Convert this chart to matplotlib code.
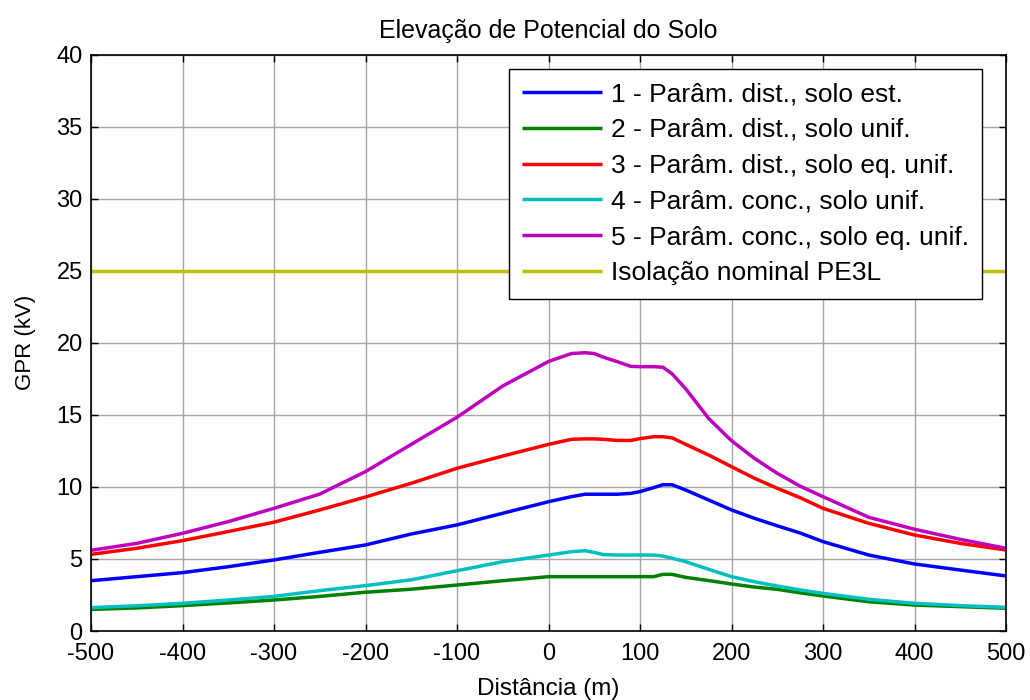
import matplotlib
matplotlib.use("Agg")
import matplotlib.pyplot as plt

plt.rcParams['font.family'] = ['Liberation Sans', 'DejaVu Sans']
plt.rcParams['axes.unicode_minus'] = False

# Distance along the line (m)
distancia = [-500, -450, -400, -350, -300, -250, -200, -150, -100, -50, 0,
             25, 40, 50, 60, 75, 90, 100, 115, 125, 135, 150, 175, 200,
             225, 250, 275, 300, 350, 400, 450, 500]

# Ground potential rise (kV) for each case
gpr_1 = [3.49, 3.77, 4.05, 4.46, 4.93, 5.46, 5.97, 6.73, 7.36, 8.17, 8.97,
         9.32, 9.49, 9.49, 9.49, 9.49, 9.55, 9.67, 9.95, 10.15, 10.15, 9.78,
         9.09, 8.40, 7.82, 7.30, 6.80, 6.20, 5.27, 4.65, 4.23, 3.82]
gpr_2 = [1.50, 1.60, 1.76, 1.95, 2.15, 2.40, 2.69, 2.90, 3.19, 3.49, 3.77,
         3.77, 3.77, 3.77, 3.77, 3.77, 3.77, 3.77, 3.77, 3.93, 3.93, 3.72,
         3.50, 3.26, 3.05, 2.89, 2.65, 2.43, 2.03, 1.80, 1.69, 1.58]
gpr_3 = [5.32, 5.74, 6.27, 6.90, 7.55, 8.40, 9.30, 10.25, 11.29, 12.14, 12.95,
         13.30, 13.33, 13.33, 13.30, 13.22, 13.22, 13.35, 13.48, 13.48, 13.40,
         12.95, 12.21, 11.40, 10.60, 9.90, 9.25, 8.51, 7.47, 6.66, 6.08, 5.62]
gpr_4 = [1.62, 1.75, 1.92, 2.15, 2.40, 2.80, 3.15, 3.55, 4.18, 4.81, 5.27,
         5.50, 5.57, 5.45, 5.30, 5.27, 5.27, 5.27, 5.27, 5.20, 5.05, 4.81,
         4.28, 3.77, 3.42, 3.12, 2.85, 2.61, 2.20, 1.92, 1.76, 1.64]
gpr_5 = [5.60, 6.08, 6.78, 7.59, 8.51, 9.50, 11.06, 12.95, 14.83, 17.00, 18.70,
         19.25, 19.31, 19.25, 19.00, 18.69, 18.36, 18.34, 18.34, 18.30, 17.85,
         16.80, 14.75, 13.20, 11.98, 10.94, 10.05, 9.32, 7.89, 7.06, 6.36, 5.74]
isolacao_kv = 25.0

rotulos = ['1 - Parâm. dist., solo est.',
           '2 - Parâm. dist., solo unif.',
           '3 - Parâm. dist., solo eq. unif.',
           '4 - Parâm. conc., solo unif.',
           '5 - Parâm. conc., solo eq. unif.',
           'Isolação nominal PE3L']
cores = ['#0000ff', '#008000', '#ff0000', '#00bfbf', '#bf00bf', '#bfbf00']

x_ticks = list(range(-500, 501, 100))
y_ticks = list(range(0, 41, 5))

fig = plt.figure(figsize=(10.3, 7.0), dpi=100)
ax = fig.add_axes([91 / 1030, 69 / 700, 915 / 1030, 576.5 / 700])

lw = 2.5
for serie, cor, rot in zip([gpr_1, gpr_2, gpr_3, gpr_4, gpr_5], cores[:5], rotulos[:5]):
    ax.plot(distancia, serie, color=cor, lw=lw, label=rot, solid_capstyle='butt')
ax.plot([distancia[0], distancia[-1]], [isolacao_kv, isolacao_kv],
        color=cores[5], lw=lw, label=rotulos[5], solid_capstyle='butt')

ax.set_xlim(-500, 500)
ax.set_ylim(0, 40)
ax.set_xticks(x_ticks)
ax.set_yticks(y_ticks)
ax.grid(True, color='#a6a6a6', lw=1.0)
ax.set_axisbelow(True)

ax.tick_params(direction='in', length=5, width=1, top=True, right=True,
               labelsize=17, colors='black')
ax.tick_params(axis='x', pad=9)
ax.tick_params(axis='y', pad=6)
for s in ax.spines.values():
    s.set_linewidth(1.2)
    s.set_color('black')

ax.set_title('Elevação de Potencial do Solo', fontsize=18, pad=12)
ax.set_xlabel('Distância (m)', fontsize=17.5, labelpad=9)
ax.set_ylabel('GPR (kV)', fontsize=16, labelpad=15)

leg = ax.legend(loc='upper right', bbox_to_anchor=(0.9738, 0.975),
                borderaxespad=0, fontsize=19, frameon=True, fancybox=False,
                handlelength=3.03, handletextpad=0.34, labelspacing=0.45,
                borderpad=0.5, edgecolor='black', framealpha=1)
leg.get_frame().set_linewidth(1.0)

fig.savefig('out.png', dpi=100)
